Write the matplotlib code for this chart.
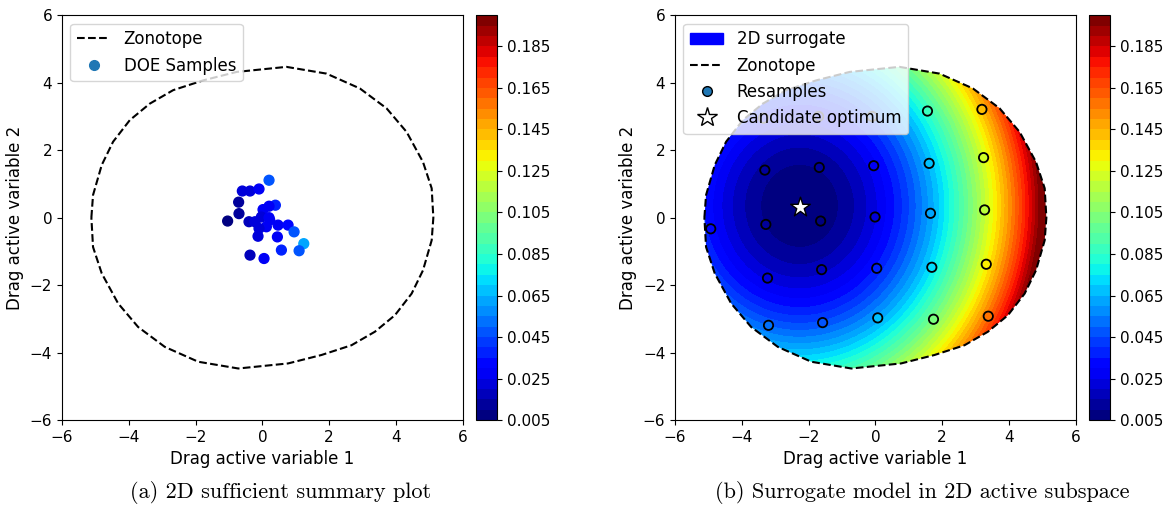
import numpy as np
import matplotlib
matplotlib.use("Agg")
import matplotlib.pyplot as plt
from matplotlib.colors import BoundaryNorm
from matplotlib.patches import Polygon, Patch
from matplotlib.lines import Line2D
from matplotlib.cm import ScalarMappable

# zonotope boundary, upper half (lower half is the point reflection)
zono_x_upper = [-5.12, -5.07, -4.81, -4.47, -3.97, -3.37, -2.67, -1.77, -0.77,
                0.72, 1.92, 2.92, 3.72, 4.32, 4.81, 5.07]
zono_y_upper = [0.0, 0.67, 1.56, 2.25, 2.89, 3.38, 3.78, 4.07, 4.32,
                4.47, 4.27, 3.83, 3.24, 2.54, 1.65, 0.87]

# DOE samples projected on the active subspace
doe_x = [0.20, -0.60, -0.37, -0.10, -0.71, -0.70, -1.04, 0.39, 0.20, 0.02,
         -0.03, -0.40, -0.22, 0.22, 0.12, -0.10, -0.13, 0.47, 0.77, 0.95,
         0.45, 1.24, 1.10, 0.57, -0.37, 0.05, 0.20]
doe_y = [1.11, 0.79, 0.79, 0.85, 0.46, 0.12, -0.10, 0.37, 0.34, 0.24,
         0.02, -0.12, -0.12, -0.07, -0.27, -0.32, -0.55, -0.22, -0.22, -0.42,
         -0.57, -0.77, -0.98, -0.96, -1.11, -1.21, 0.0]
doe_drag = [0.045, 0.020, 0.022, 0.025, 0.012, 0.012, 0.008, 0.035, 0.030, 0.025,
            0.022, 0.018, 0.020, 0.028, 0.025, 0.022, 0.022, 0.030, 0.032, 0.045,
            0.030, 0.060, 0.048, 0.035, 0.015, 0.028, 0.026]

# resamples on the right panel
res_x = [-3.35, -1.70, -0.10, 1.56, 3.19,
         -3.31, -1.68, -0.05, 1.61, 3.24,
         -4.93, -3.28, -1.64, -0.01, 1.65, 3.27,
         -3.23, -1.61, 0.04, 1.69, 3.32,
         -3.20, -1.58, 0.07, 1.74, 3.38]
res_y = [2.95, 3.00, 3.00, 3.16, 3.21,
         1.41, 1.49, 1.54, 1.61, 1.78,
         -0.33, -0.20, -0.10, 0.02, 0.13, 0.23,
         -1.79, -1.54, -1.50, -1.47, -1.38,
         -3.19, -3.11, -2.97, -3.01, -2.92]
res_drag = [0.032, 0.029, 0.046, 0.085, 0.142,
            0.013, 0.011, 0.028, 0.066, 0.124,
            0.033, 0.010, 0.007, 0.024, 0.062, 0.119,
            0.024, 0.018, 0.036, 0.074, 0.131,
            0.050, 0.046, 0.068, 0.102, 0.158]

opt_x, opt_y = -2.27, 0.32

# quadratic surrogate coefficients
surr_min = 0.005
surr_cx, surr_cy = -2.27, 0.35
surr_ax, surr_ay = 0.0037, 0.0033

levels = np.arange(0.005, 0.2001, 0.005)
cbar_ticks = np.arange(0.005, 0.19, 0.02)

cmap = plt.get_cmap("jet")
norm = BoundaryNorm(levels, cmap.N)

zx = np.array(zono_x_upper + [-v for v in zono_x_upper] + [zono_x_upper[0]])
zy = np.array(zono_y_upper + [-v for v in zono_y_upper] + [zono_y_upper[0]])

fig = plt.figure(figsize=(11.65, 5.08), dpi=100)
ax1 = fig.add_axes([0.0532, 0.173, 0.344, 0.797])
cax1 = fig.add_axes([0.4086, 0.173, 0.018, 0.797])
ax2 = fig.add_axes([0.5794, 0.173, 0.344, 0.797])
cax2 = fig.add_axes([0.9348, 0.173, 0.018, 0.797])

# (a) sufficient summary plot
ax1.plot(zx, zy, "k--", lw=1.5)
ax1.scatter(doe_x, doe_y, c=doe_drag, cmap=cmap, norm=norm, s=50)
h1 = [Line2D([], [], color="k", ls="--", lw=1.5),
      Line2D([], [], ls="", marker="o", color="#1f77b4", markersize=7)]
ax1.legend(h1, ["Zonotope", "DOE Samples"], loc="upper left", fontsize=12)

# (b) surrogate
gx, gy = np.meshgrid(np.linspace(-5.5, 5.5, 300), np.linspace(-5, 5, 300))
gz = surr_min + surr_ax * (gx - surr_cx) ** 2 + surr_ay * (gy - surr_cy) ** 2
gz = np.clip(gz, 0.005, 0.1999)
cs = ax2.contourf(gx, gy, gz, levels=levels, cmap=cmap, norm=norm)
clip = Polygon(np.column_stack([zx, zy]), closed=True, transform=ax2.transData)
cs.set_clip_path(clip)
ax2.plot(zx, zy, "k--", lw=1.5)
ax2.scatter(res_x, res_y, c=res_drag, cmap=cmap, norm=norm, s=45,
            edgecolors="k", linewidths=1.3)
ax2.scatter([opt_x], [opt_y], marker="*", s=220, c="white",
            edgecolors="k", linewidths=1.0, zorder=5)
h2 = [Patch(color="blue"),
      Line2D([], [], color="k", ls="--", lw=1.5),
      Line2D([], [], ls="", marker="o", markerfacecolor="#1f77b4",
             markeredgecolor="k", markersize=7),
      Line2D([], [], ls="", marker="*", markerfacecolor="white",
             markeredgecolor="k", markersize=15)]
ax2.legend(h2, ["2D surrogate", "Zonotope", "Resamples", "Candidate optimum"],
           loc="upper left", fontsize=12)

for ax in (ax1, ax2):
    ax.set_xlim(-6, 6)
    ax.set_ylim(-6, 6)
    ax.set_xticks(np.arange(-6, 7, 2))
    ax.set_yticks(np.arange(-6, 7, 2))
    ax.tick_params(labelsize=11)
    ax.set_xlabel("Drag active variable 1", fontsize=12)
    ax.set_ylabel("Drag active variable 2", fontsize=12)

for cax in (cax1, cax2):
    cb = fig.colorbar(ScalarMappable(norm=norm, cmap=cmap), cax=cax,
                      ticks=cbar_ticks, format="%.3f")
    cb.ax.minorticks_off()
    cb.ax.tick_params(labelsize=11)

fig.text(0.241, 0.03, "(a) 2D sufficient summary plot", ha="center",
         va="center", fontsize=16, family="cmr10")
fig.text(0.7918, 0.03, "(b) Surrogate model in 2D active subspace", ha="center",
         va="center", fontsize=16, family="cmr10")

fig.savefig("out.png", dpi=100)
